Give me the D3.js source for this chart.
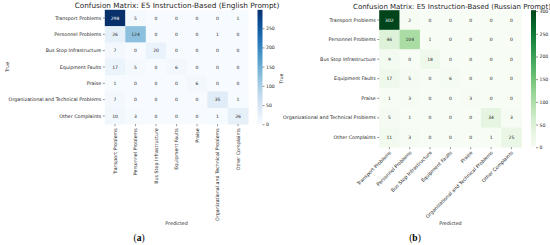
<!DOCTYPE html>
<html>
<head>
<meta charset="utf-8">
<script src="https://cdn.jsdelivr.net/npm/d3@7"></script>
<style>
  html, body { margin: 0; padding: 0; background: #fff; }
  svg { display: block; font-family: "DejaVu Sans", sans-serif; }
</style>
</head>
<body>
<svg id="chart" width="550" height="245"></svg>
<script>
const categories = [
  'Transport Problems',
  'Personnel Problems',
  'Bus Stop Infrastructure',
  'Equipment Faults',
  'Praise',
  'Organizational and Technical Problems',
  'Other Complaints',
];

// rows = true class, columns = predicted class
const englishCounts = [
  [298, 5, 0, 0, 0, 0, 1],
  [26, 124, 0, 0, 0, 1, 0],
  [7, 0, 20, 0, 0, 0, 0],
  [17, 5, 0, 6, 0, 0, 0],
  [1, 0, 0, 0, 6, 0, 0],
  [7, 0, 0, 0, 0, 35, 1],
  [10, 3, 0, 0, 0, 1, 26],
];

const russianCounts = [
  [302, 2, 0, 0, 0, 0, 0],
  [46, 104, 1, 0, 0, 0, 0],
  [9, 0, 18, 0, 0, 0, 0],
  [17, 5, 0, 6, 0, 0, 0],
  [1, 3, 0, 0, 3, 0, 0],
  [5, 1, 0, 0, 0, 34, 3],
  [11, 3, 0, 0, 0, 1, 25],
];

const englishTicks = [0, 50, 100, 150, 200, 250];
const russianTicks = [0, 50, 100, 150, 200, 250, 300];

const titles = [
  'Confusion Matrix: E5 Instruction-Based (English Prompt)',
  'Confusion Matrix: E5 Instruction-Based (Russian Prompt)',
];
const panelLetters = ['a', 'b'];

const svg = d3.select('#chart');
const textColor = '#262626';

function drawMatrix(opts) {
  const { counts, ticks, title, letter, interp, box, cbar, rotate, yLabelX, letterX, titleX, titleSize, gradId } = opts;
  const g = svg.append('g');
  const max = d3.max(counts.flat());
  const color = d3.scaleSequential(interp).domain([0, max]);

  const x = d3.scaleBand().domain(categories).range([box.x0, box.x1]);
  const y = d3.scaleBand().domain(categories).range([box.y0, box.y1]);

  const cells = counts.flatMap((row, i) => row.map((v, j) => ({ t: categories[i], p: categories[j], v })));

  g.selectAll('rect.cell')
    .data(cells)
    .enter()
    .append('rect')
    .attr('class', 'cell')
    .attr('x', (d) => x(d.p))
    .attr('y', (d) => y(d.t))
    .attr('width', x.bandwidth() + 0.3)
    .attr('height', y.bandwidth() + 0.3)
    .attr('fill', (d) => color(d.v));

  // seaborn picks white text on dark cells
  g.selectAll('text.annot')
    .data(cells)
    .enter()
    .append('text')
    .attr('class', 'annot')
    .attr('x', (d) => x(d.p) + x.bandwidth() / 2)
    .attr('y', (d) => y(d.t) + y.bandwidth() / 2)
    .attr('dy', '0.35em')
    .attr('text-anchor', 'middle')
    .attr('font-size', 4.5)
    .attr('fill', (d) => (d3.hsl(color(d.v)).l < 0.45 ? '#fff' : textColor))
    .text((d) => d.v);

  // y axis
  const yAxis = g.append('g')
    .attr('transform', `translate(${box.x0},0)`)
    .call(d3.axisLeft(y).tickSize(2).tickPadding(1.5));
  yAxis.select('.domain').remove();
  yAxis.selectAll('line').attr('stroke', textColor).attr('stroke-width', 0.5);
  yAxis.selectAll('text').attr('font-size', 4.8).attr('fill', textColor).attr('font-family', 'DejaVu Sans');

  // x axis
  const xAxis = g.append('g')
    .attr('transform', `translate(0,${box.y1})`)
    .call(d3.axisBottom(x).tickSize(2).tickPadding(1.5));
  xAxis.select('.domain').remove();
  xAxis.selectAll('line').attr('stroke', textColor).attr('stroke-width', 0.5);
  const xt = xAxis.selectAll('text').attr('font-size', 4.8).attr('fill', textColor).attr('font-family', 'DejaVu Sans');
  if (rotate === 90) {
    xt.attr('transform', 'rotate(-90)')
      .attr('text-anchor', 'end')
      .attr('x', -4)
      .attr('y', 0)
      .attr('dy', '0.35em');
  } else {
    xt.attr('transform', 'translate(1,4.5) rotate(-45)')
      .attr('text-anchor', 'end')
      .attr('x', 0)
      .attr('y', 0)
      .attr('dy', '0.35em');
  }

  // colorbar
  const grad = svg.append('defs').append('linearGradient')
    .attr('id', gradId)
    .attr('x1', 0).attr('x2', 0).attr('y1', 1).attr('y2', 0);
  d3.range(0, 1.0001, 0.1).forEach((t) => {
    grad.append('stop').attr('offset', t).attr('stop-color', color(t * max));
  });
  g.append('rect')
    .attr('x', cbar.x0)
    .attr('y', box.y0)
    .attr('width', cbar.x1 - cbar.x0)
    .attr('height', box.y1 - box.y0)
    .attr('fill', `url(#${gradId})`);
  const cScale = d3.scaleLinear().domain([0, max]).range([box.y1, box.y0]);
  const cAxis = g.append('g')
    .attr('transform', `translate(${cbar.x1},0)`)
    .call(d3.axisRight(cScale).tickValues(ticks).tickSize(2).tickPadding(1.5));
  cAxis.select('.domain').remove();
  cAxis.selectAll('line').attr('stroke', textColor).attr('stroke-width', 0.5);
  cAxis.selectAll('text').attr('font-size', 4.6).attr('fill', textColor).attr('font-family', 'DejaVu Sans');

  const cx = (box.x0 + box.x1) / 2;
  g.append('text')
    .attr('x', titleX)
    .attr('y', box.y0 - 1.6)
    .attr('text-anchor', 'middle')
    .attr('font-size', titleSize)
    .attr('fill', textColor)
    .text(title);

  g.append('text')
    .attr('transform', `translate(${yLabelX},${(box.y0 + box.y1) / 2}) rotate(-90)`)
    .attr('text-anchor', 'middle')
    .attr('font-size', 4.8)
    .attr('fill', textColor)
    .text('True');

  g.append('text')
    .attr('x', cx)
    .attr('y', 225)
    .attr('text-anchor', 'middle')
    .attr('font-size', 4.8)
    .attr('fill', textColor)
    .text('Predicted');

  const lab = g.append('text')
    .attr('x', letterX)
    .attr('y', 241)
    .attr('text-anchor', 'middle')
    .attr('font-size', 9.5)
    .attr('font-family', 'Liberation Serif, serif')
    .attr('fill', '#000');
  lab.append('tspan').text('(');
  lab.append('tspan').attr('font-weight', 'bold').text(letter);
  lab.append('tspan').text(')');
}

drawMatrix({
  counts: englishCounts,
  ticks: englishTicks,
  title: titles[0],
  letter: panelLetters[0],
  interp: d3.interpolateBlues,
  box: { x0: 104.8, x1: 248.3, y0: 9.8, y1: 124.2 },
  cbar: { x0: 257.5, x1: 262.5 },
  rotate: 90,
  yLabelX: 9,
  letterX: 139,
  titleX: 177,
  titleSize: 7.3,
  gradId: 'gradBlue',
});

drawMatrix({
  counts: russianCounts,
  ticks: russianTicks,
  title: titles[1],
  letter: panelLetters[1],
  interp: d3.interpolateGreens,
  box: { x0: 379.2, x1: 521.6, y0: 10.2, y1: 147.2 },
  cbar: { x0: 531, x1: 536 },
  rotate: 45,
  yLabelX: 283,
  letterX: 415,
  titleX: 452,
  titleSize: 7.0,
  gradId: 'gradGreen',
});
</script>
</body>
</html>
